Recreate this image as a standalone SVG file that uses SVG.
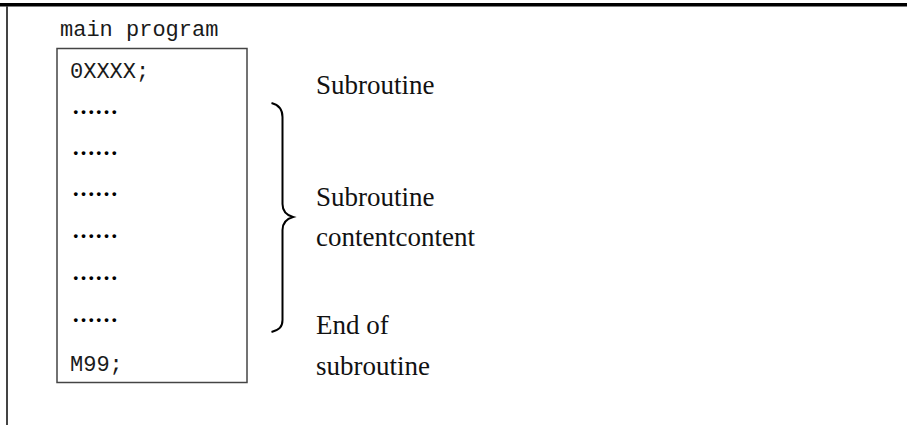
<svg xmlns="http://www.w3.org/2000/svg" width="907" height="425" viewBox="0 0 907 425">
<style>
.mono{font-family:"Liberation Mono","DejaVu Sans Mono",monospace;font-size:22px;fill:#1a1a1a}
.serif{font-family:"Liberation Serif","Times New Roman",serif;font-size:27px;fill:#111}
.dots{font-family:"Liberation Serif","Times New Roman",serif;font-size:23px;font-weight:bold;fill:#000}
</style>
<rect x="0" y="0" width="907" height="425" fill="#fff"/>
<g id="frame">
<rect x="0" y="3" width="907" height="3.5" fill="#000"/>
<line x1="7" y1="6" x2="7" y2="425" stroke="#444" stroke-width="2"/>
</g>
<g id="main-program">
<text class="mono" x="60" y="36">main program</text>
<rect x="57" y="48.5" width="190" height="334" fill="none" stroke="#444" stroke-width="1.5"/>
<text class="mono" x="70" y="78">0XXXX;</text>
<text class="dots" x="72" y="114">……</text>
<text class="dots" x="72" y="155">……</text>
<text class="dots" x="72" y="196">……</text>
<text class="dots" x="72" y="238">……</text>
<text class="dots" x="72" y="280">……</text>
<text class="dots" x="72" y="322">……</text>
<text class="mono" x="70" y="371">M99;</text>
</g>
<g id="connectors">
<path d="M271.5,103 C279,105 282.5,109 282.5,117 L282.5,204 C282.5,211 286,215 293,217 C286,219 282.5,223 282.5,230 L282.5,320 C282.5,327 279,330 271.5,332" fill="none" stroke="#000" stroke-width="2"/>
</g>
<g id="labels">
<text class="serif" x="316" y="94">Subroutine</text>
<text class="serif" x="316" y="206">Subroutine</text>
<text class="serif" x="316" y="246">contentcontent</text>
<text class="serif" x="316" y="334">End of</text>
<text class="serif" x="316" y="375">subroutine</text>
</g>
</svg>
